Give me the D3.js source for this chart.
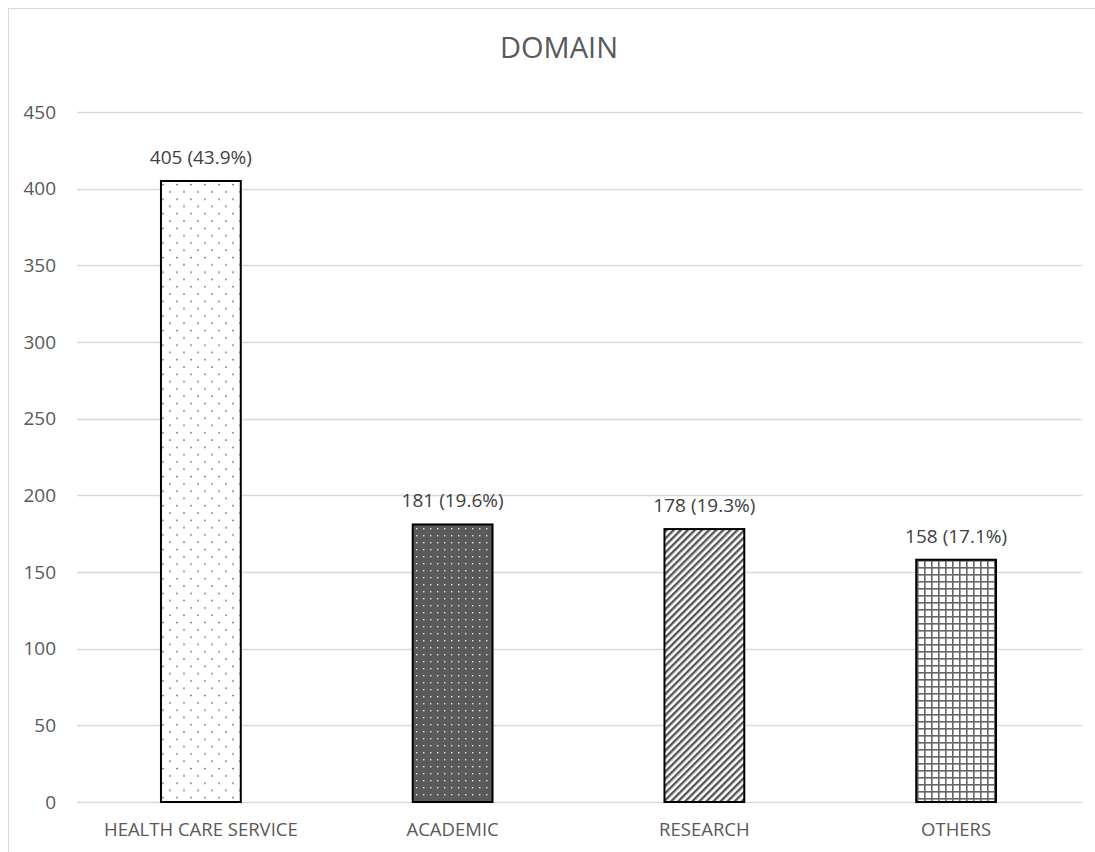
<!DOCTYPE html>
<html>
<head>
<meta charset="utf-8">
<script src="https://cdn.jsdelivr.net/npm/d3@7"></script>
<style>
  body { margin: 0; background: #fff; }
  text { font-family: "Open Sans", sans-serif; }
</style>
</head>
<body>
<div id="chart"></div>
<script>
const categories = ['HEALTH CARE SERVICE', 'ACADEMIC', 'RESEARCH', 'OTHERS'];
const counts = [405, 181, 178, 158];
const shares = ['43.9%', '19.6%', '19.3%', '17.1%'];
const yTicks = [0, 50, 100, 150, 200, 250, 300, 350, 400, 450];
const patternIds = ['dots-light', 'dots-dark', 'stripes', 'grid'];

const w = 1095;
const h = 852;
const margin = { top: 112, right: 13, bottom: 50, left: 77 };

const svg = d3.select('#chart')
  .append('svg')
  .attr('width', w)
  .attr('height', h);

// chart frame
svg.append('rect')
  .attr('x', 8.5).attr('y', 8.5)
  .attr('width', w + 10).attr('height', h + 10)
  .attr('fill', 'none')
  .attr('stroke', '#d9d9d9');

// fill patterns
const defs = svg.append('defs');

const p1 = defs.append('pattern').attr('id', 'dots-light')
  .attr('patternUnits', 'userSpaceOnUse').attr('width', 14).attr('height', 14.6);
p1.append('rect').attr('width', 14).attr('height', 14.6).attr('fill', '#fff');
p1.append('circle').attr('cx', 2).attr('cy', 2).attr('r', 0.9).attr('fill', '#666');
p1.append('circle').attr('cx', 9).attr('cy', 9.3).attr('r', 0.9).attr('fill', '#666');

const p2 = defs.append('pattern').attr('id', 'dots-dark')
  .attr('patternUnits', 'userSpaceOnUse').attr('width', 7).attr('height', 7);
p2.append('rect').attr('width', 7).attr('height', 7).attr('fill', '#5a5a5a');
p2.append('rect').attr('x', 3).attr('y', 3).attr('width', 1.4).attr('height', 1.4).attr('fill', '#e6e6e6');

const p3 = defs.append('pattern').attr('id', 'stripes')
  .attr('patternUnits', 'userSpaceOnUse').attr('width', 5).attr('height', 5)
  .attr('patternTransform', 'rotate(45)');
p3.append('rect').attr('width', 5).attr('height', 5).attr('fill', '#fff');
p3.append('rect').attr('x', 0).attr('width', 2.4).attr('height', 5).attr('fill', '#555');

const p4 = defs.append('pattern').attr('id', 'grid')
  .attr('patternUnits', 'userSpaceOnUse').attr('width', 7).attr('height', 7);
p4.append('rect').attr('width', 7).attr('height', 7).attr('fill', '#fff');
p4.append('rect').attr('x', 0).attr('width', 1.6).attr('height', 7).attr('fill', '#666');
p4.append('rect').attr('y', 0).attr('width', 7).attr('height', 1.6).attr('fill', '#666');

const x = d3.scaleBand()
  .domain(categories)
  .range([margin.left - 2, w - margin.right])
  .paddingInner(0.683)
  .paddingOuter(0.3415);

const y = d3.scaleLinear()
  .domain([0, 450])
  .range([h - margin.bottom, margin.top]);

// gridlines
svg.append('g')
  .selectAll('line')
  .data(yTicks)
  .join('line')
  .attr('x1', margin.left)
  .attr('x2', w - margin.right)
  .attr('y1', d => Math.round(y(d)) + 0.5)
  .attr('y2', d => Math.round(y(d)) + 0.5)
  .attr('stroke', '#d9d9d9')
  .attr('stroke-width', 1.3);

const yAxis = d3.axisLeft(y).tickValues(yTicks).tickSize(0).tickPadding(0);
svg.append('g')
  .attr('transform', 'translate(' + 56 + ',0)')
  .call(yAxis)
  .call(g => g.select('.domain').remove())
  .selectAll('text')
  .attr('fill', '#595959')
  .style('font-size', '19px');

const xAxis = d3.axisBottom(x).tickSize(0).tickPadding(0);
svg.append('g')
  .attr('transform', 'translate(0,' + (h - margin.bottom + 21) + ')')
  .call(xAxis)
  .call(g => g.select('.domain').remove())
  .selectAll('text')
  .attr('fill', '#595959')
  .style('font-size', '18.5px');

// bars
svg.append('g')
  .selectAll('rect')
  .data(categories)
  .join('rect')
  .attr('x', d => x(d))
  .attr('y', (d, i) => y(counts[i]))
  .attr('width', x.bandwidth())
  .attr('height', (d, i) => y(0) - y(counts[i]))
  .attr('fill', (d, i) => 'url(#' + patternIds[i] + ')')
  .attr('stroke', '#000')
  .attr('stroke-width', 2);

// value labels
svg.append('g')
  .selectAll('text')
  .data(categories)
  .join('text')
  .attr('x', d => x(d) + x.bandwidth() / 2)
  .attr('y', (d, i) => y(counts[i]) - 17)
  .attr('text-anchor', 'middle')
  .attr('fill', '#404040')
  .style('font-size', '19px')
  .text((d, i) => counts[i] + ' (' + shares[i] + ')');

svg.append('text')
  .attr('x', 559)
  .attr('y', 58)
  .attr('text-anchor', 'middle')
  .attr('fill', '#595959')
  .style('font-size', '29px')
  .text('DOMAIN');
</script>
</body>
</html>
